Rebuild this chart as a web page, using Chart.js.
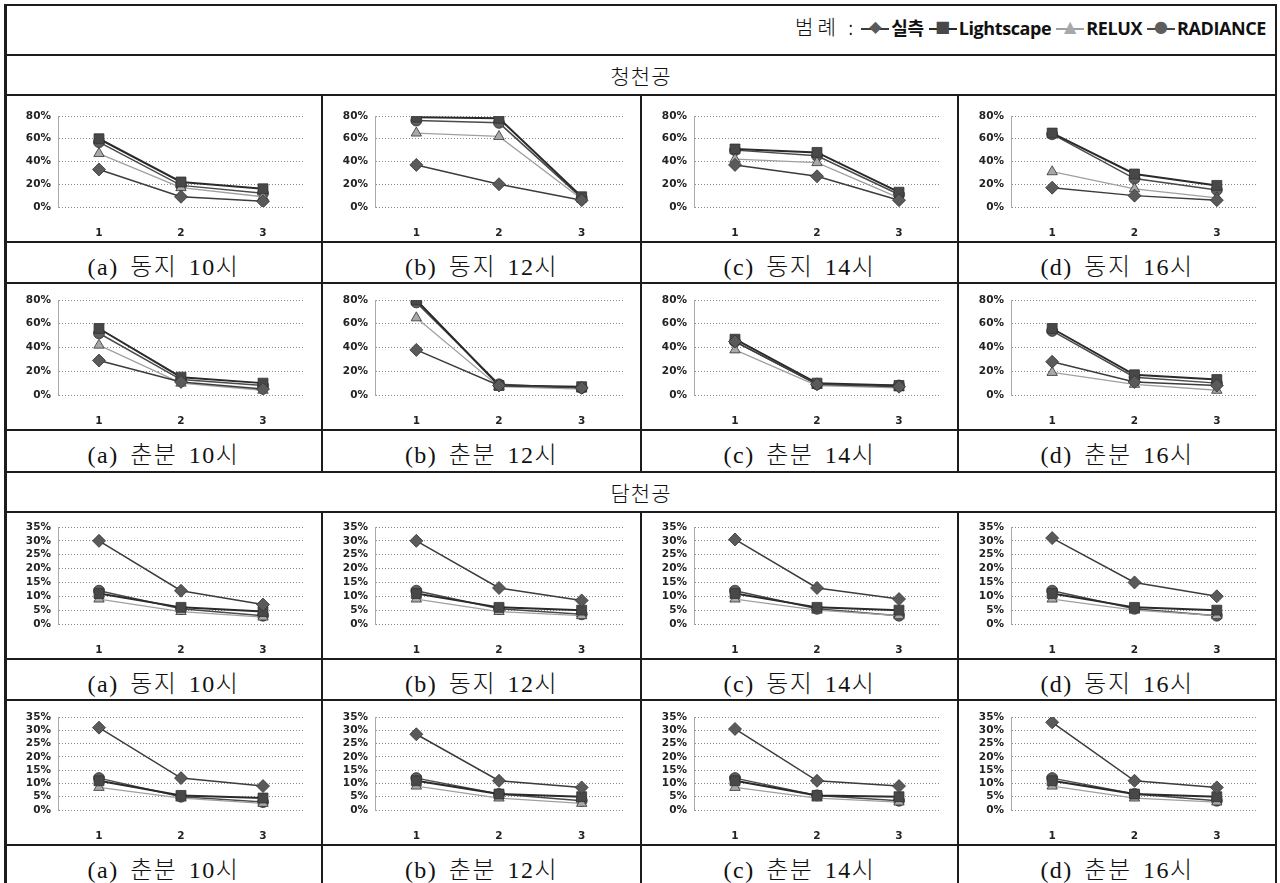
<!DOCTYPE html>
<html>
<head>
<meta charset="utf-8">
<script src="https://cdn.jsdelivr.net/npm/chart.js@4.4.1/dist/chart.umd.min.js"></script>
<style>
  body { margin: 0; background: #fff; width: 1280px; height: 883px; overflow: hidden; position: relative; }
  .hl { position: absolute; left: 5px; width: 1272px; height: 2px; background: #1c1c1c; }
  .vl { position: absolute; width: 2px; background: #1c1c1c; }
  .cap { position: absolute; text-align: center; font-family: "Liberation Serif", "Noto Sans CJK KR", serif; font-weight: 300; font-size: 24px; letter-spacing: 1.5px; word-spacing: 4px; color: #111; white-space: pre; }
  .sky { position: absolute; left: 5px; width: 1272px; text-align: center; font-family: "Noto Sans CJK KR", serif; font-weight: 300; font-size: 21px; letter-spacing: 1px; color: #111; }
  canvas { position: absolute; }
  #legend { position: absolute; right: 9px; top: 12px; font-size: 18px; color: #111; white-space: nowrap; }
  #legend .ttl { font-family: "Noto Sans CJK KR", serif; font-weight: 300; font-size: 20px; letter-spacing: 4px; margin-right: 4px; }
  #legend .name { font-family: "Open Sans", "Noto Sans CJK KR", sans-serif; font-weight: bold; letter-spacing: -0.4px; margin-right: 5px; }
  #legend .mk { display: inline-block; position: relative; width: 28px; height: 16px; vertical-align: -2px; margin-right: 2px; }
  #legend .mk i { position: absolute; left: 0; right: 0; top: 7px; height: 2px; }
  #legend .mk b { position: absolute; left: 0; right: 0; top: -4px; text-align: center; font-size: 16px; font-family: "DejaVu Sans"; }
</style>
</head>
<body>
<div id="legend"></div>
<script>
// x categories
const categories = ['1', '2', '3'];
const seriesNames = ['실측', 'Lightscape', 'RELUX', 'RADIANCE'];
const hours = ['10시', '12시', '14시', '16시'];
const letters = ['(a)', '(b)', '(c)', '(d)'];
const seasons = ['동지', '춘분'];
const skies = ['청천공', '담천공'];

// y ticks (percent)
const clearTicks = [0, 20, 40, 60, 80];
const overcastTicks = [0, 5, 10, 15, 20, 25, 30, 35];

// values in %, one triple per hour (10, 12, 14, 16시)
// 청천공 동지
const measuredClearWinter   = [[33, 9, 5],  [37, 20, 6],  [37, 27, 6],  [17, 10, 6]];
const lightscapeClearWinter = [[60, 22, 16], [79, 78, 9], [51, 48, 13], [65, 29, 19]];
const reluxClearWinter      = [[47, 17, 9], [65, 62, 7],  [42, 39, 8],  [31, 16, 8]];
const radianceClearWinter   = [[57, 19, 12], [76, 74, 8], [50, 45, 11], [64, 25, 15]];
// 청천공 춘분
const measuredClearSpring   = [[29, 11, 5], [38, 8, 6],  [45, 9, 7],  [28, 11, 8]];
const lightscapeClearSpring = [[56, 15, 10], [80, 8, 7], [47, 10, 8], [56, 17, 13]];
const reluxClearSpring      = [[42, 10, 4], [65, 7, 5],  [38, 8, 6],  [19, 9, 4]];
const radianceClearSpring   = [[52, 13, 8], [78, 9, 6],  [45, 9, 8],  [54, 15, 10]];
// 담천공 동지
const measuredOverWinter    = [[30, 12, 7],  [30, 13, 8.5], [30.5, 13, 9], [31, 15, 10]];
const lightscapeOverWinter  = [[11, 6, 4.5], [11, 6, 5],    [11, 6, 5],    [11, 6, 5]];
const reluxOverWinter       = [[9, 4.5, 2.5], [9, 4.5, 3],  [9, 5, 3],     [9, 5, 3]];
const radianceOverWinter    = [[12, 5.5, 3], [12, 5.5, 3.5], [12, 5.5, 3], [12, 5.5, 3]];
// 담천공 춘분
const measuredOverSpring    = [[31, 12, 9],   [28.5, 11, 8.5], [30.5, 11, 9], [33, 11, 8.5]];
const lightscapeOverSpring  = [[11, 5.5, 4.5], [11, 6, 5],     [11, 5.5, 5],  [11, 6, 5]];
const reluxOverSpring       = [[8.5, 4.5, 2.5], [9, 4.5, 2.5], [8.5, 4.5, 3], [9, 4.5, 3]];
const radianceOverSpring    = [[12, 5, 3],    [12, 6, 3.5],    [12, 5.5, 3.5], [12, 6, 3.5]];

const rowsData = [
  [measuredClearWinter, lightscapeClearWinter, reluxClearWinter, radianceClearWinter],
  [measuredClearSpring, lightscapeClearSpring, reluxClearSpring, radianceClearSpring],
  [measuredOverWinter, lightscapeOverWinter, reluxOverWinter, radianceOverWinter],
  [measuredOverSpring, lightscapeOverSpring, reluxOverSpring, radianceOverSpring]
];

// look of each series
const styles = [
  { shape: 'rectRot',  r: 6.5, fill: '#5a5a5a', line: '#3c3c3c', w: 1.5, ch: '◆' },
  { shape: 'rect',     r: 7,   fill: '#484848', line: '#2a2a2a', w: 2,   ch: '■' },
  { shape: 'triangle', r: 6,   fill: '#a8a8a8', line: '#a0a0a0', w: 1.3, ch: '▲' },
  { shape: 'circle',   r: 5.5, fill: '#5e5e5e', line: '#4a4a4a', w: 1.5, ch: '●' }
];

// layout of the table
const colX = [5, 322, 641, 958, 1276];
const chartRows = [[95, 242], [283, 430], [512, 659], [700, 845]];
const capRows = [[242, 283], [430, 472], [659, 700], [845, 884]];
const topPad = [20, 16, 14, 16];
const hLines = [5, 55, 95, 242, 283, 430, 472, 512, 659, 700, 845];

function div(cls, css, text) {
  const d = document.createElement('div');
  d.className = cls;
  Object.assign(d.style, css);
  if (text) d.textContent = text;
  document.body.appendChild(d);
  return d;
}

hLines.forEach(y => div('hl', { top: (y - 1) + 'px' }));
div('vl', { left: '4px', top: '4px', height: '880px', width: '3px' });
div('vl', { left: '1275px', top: '4px', height: '880px' });
[[95, 472], [512, 884]].forEach(([a, b]) => {
  [1, 2, 3].forEach(i => div('vl', { left: (colX[i] - 1) + 'px', top: a + 'px', height: (b - a) + 'px' }));
});

div('sky', { top: '60px' }, skies[0]);
div('sky', { top: '477px' }, skies[1]);

// legend
const lg = document.getElementById('legend');
lg.innerHTML = '<span class="ttl">범례 :</span>' + seriesNames.map((n, i) =>
  `<span class="mk"><i style="background:${styles[i].line}"></i><b style="color:${styles[i].fill}">${styles[i].ch}</b></span><span class="name">${n}</span>`
).join('');

const tickFont = { family: 'DejaVu Sans', size: 10.5, weight: 'bold' };

rowsData.forEach((row, r) => {
  const ticks = r < 2 ? clearTicks : overcastTicks;
  const [top, bottom] = chartRows[r];
  for (let c = 0; c < 4; c++) {
    const cv = document.createElement('canvas');
    const w = colX[c + 1] - colX[c] - 2;
    const h = bottom - top - 2;
    cv.width = w; cv.height = h;
    cv.style.left = (colX[c] + 1) + 'px';
    cv.style.top = (top + 1) + 'px';
    document.body.appendChild(cv);

    new Chart(cv, {
      type: 'line',
      data: {
        labels: categories,
        datasets: row.map((s, i) => ({
          label: seriesNames[i],
          data: s[c],
          borderColor: styles[i].line,
          borderWidth: styles[i].w,
          backgroundColor: styles[i].fill,
          pointStyle: styles[i].shape,
          pointRadius: styles[i].r,
          pointBorderColor: '#333',
          pointBorderWidth: 0.8,
          tension: 0
        }))
      },
      options: {
        responsive: false,
        animation: false,
        layout: { padding: { top: topPad[r], right: 17, left: 0, bottom: 0 } },
        plugins: { legend: { display: false }, tooltip: { enabled: false } },
        scales: {
          x: {
            offset: true,
            grid: { display: false },
            border: { display: false },
            ticks: { color: '#222', font: tickFont, padding: 12 },
            afterFit(s) { s.height = 34; }
          },
          y: {
            min: ticks[0],
            max: ticks[ticks.length - 1],
            afterBuildTicks(s) { s.ticks = ticks.map(v => ({ value: v })); },
            ticks: { color: '#222', font: tickFont, padding: 7, autoSkip: false, callback: v => v + '%' },
            grid: { color: '#8a8a8a', lineWidth: 1, drawTicks: false },
            border: { display: true, color: '#aaa', dash: [1, 2] },
            afterFit(s) { s.width = 52; }
          }
        }
      }
    });

    const [ct] = capRows[r];
    div('cap', {
      left: colX[c] + 'px', width: (colX[c + 1] - colX[c]) + 'px',
      top: (ct + 5) + 'px'
    }, `${letters[c]} ${seasons[r % 2]} ${hours[c]}`);
  }
});
</script>
</body>
</html>
